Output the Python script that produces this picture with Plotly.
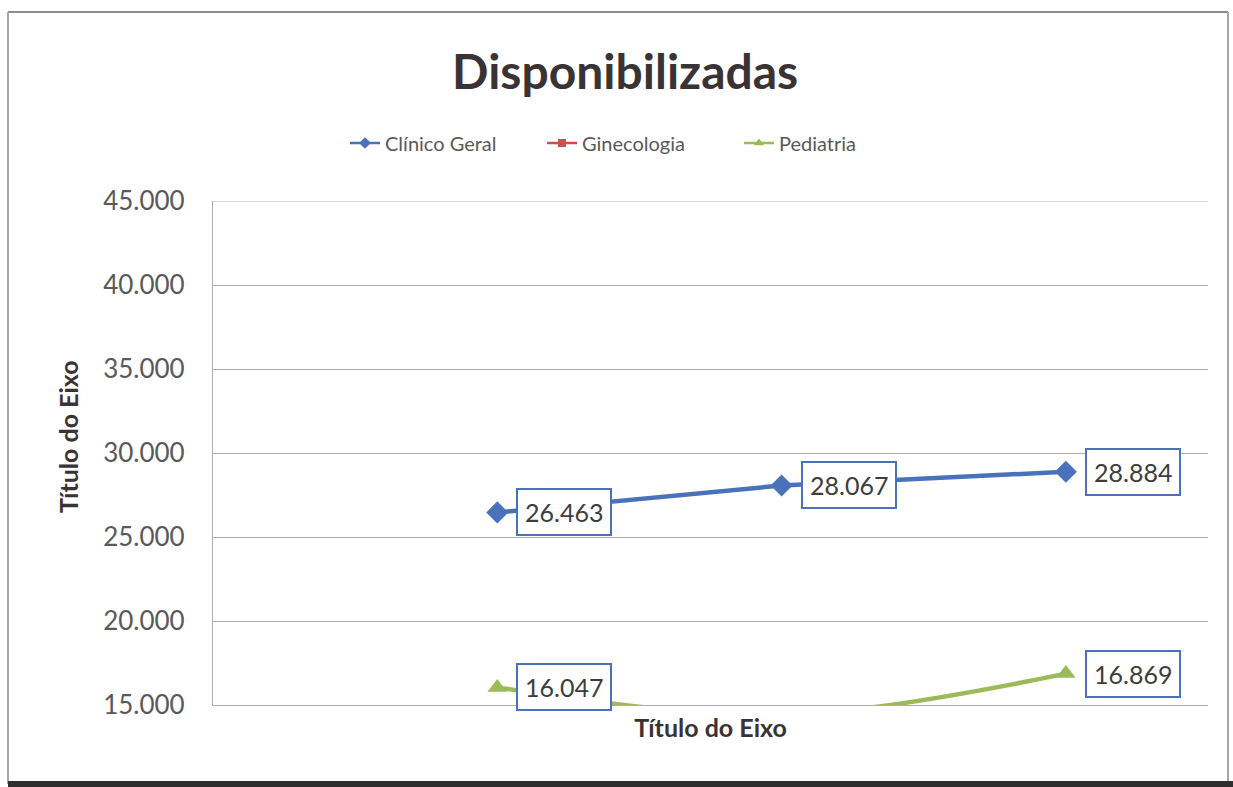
import plotly.graph_objects as go

# Series values (thousands separator shown as ".")
categories = [1, 2, 3]
clinico_geral = [26463, 28067, 28884]
ginecologia = [12300, 12900, 13100]
pediatria = [16047, 14400, 16869]

series_names = ["Clínico Geral", "Ginecologia", "Pediatria"]
y_ticks = [15000, 20000, 25000, 30000, 35000, 40000, 45000]
axis_title = "Título do Eixo"

BLUE = "#4A72BA"
RED = "#C8504D"
GREEN = "#9BBB59"
GRID = "#acacac"
FONT = "Lato, 'Open Sans', sans-serif"

W, H = 1233, 787
L, R, T, B = 213, 1208, 201, 705  # plot-area edges in pixels


def px_x(p):
    return (p - L) / (R - L)


def px_y(p):
    return (B - p) / (B - T)


def fmt(v):
    return f"{v:,}".replace(",", ".")


styles = [
    dict(name=series_names[0], y=clinico_geral, color=BLUE, symbol="diamond",
         size=17, legend_size=9, shape="linear"),
    dict(name=series_names[1], y=ginecologia, color=RED, symbol="square",
         size=12, legend_size=8, shape="linear"),
    dict(name=series_names[2], y=pediatria, color=GREEN, symbol="triangle-up",
         size=17, legend_size=9, shape="spline"),
]

fig = go.Figure()
for s in styles:
    # plotted series
    fig.add_trace(go.Scatter(
        x=categories, y=s["y"], name=s["name"], mode="lines+markers",
        legendgroup=s["name"], showlegend=False,
        line=dict(color=s["color"], width=4.5, shape=s["shape"], smoothing=1.0),
        marker=dict(symbol=s["symbol"], size=s["size"], color=s["color"]),
        cliponaxis=True,
    ))
    # thinner legend swatch for the same series
    fig.add_trace(go.Scatter(
        x=[None], y=[None], name=s["name"], mode="lines+markers",
        legendgroup=s["name"], showlegend=True, hoverinfo="skip",
        line=dict(color=s["color"], width=2.5),
        marker=dict(symbol=s["symbol"], size=s["legend_size"], color=s["color"]),
    ))

# Boxed data labels to the right of each visible point
annotations = []
for ys in (clinico_geral, pediatria):
    for xv, yv in zip(categories, ys):
        if yv < y_ticks[0]:
            continue
        annotations.append(dict(
            x=xv, y=yv, xref="x", yref="y", text=fmt(yv), showarrow=False,
            xanchor="left", yanchor="middle", xshift=19,
            font=dict(family=FONT, size=25, color="#3d3d3d"),
            bgcolor="white", bordercolor=BLUE, borderwidth=2, borderpad=7,
        ))

# Vertical axis title
annotations.append(dict(
    x=px_x(68), y=px_y(437), xref="paper", yref="paper",
    text=f"<b>{axis_title}</b>", showarrow=False, textangle=-90,
    xanchor="center", yanchor="middle",
    font=dict(family=FONT, size=25, color="#3a3336"),
))

# Outer chart frame and the top gridline of the plot area
shapes = [
    dict(type="line", xref="paper", yref="y", layer="below",
         x0=0, x1=1, y0=y_ticks[-1], y1=y_ticks[-1],
         line=dict(color=GRID, width=1.2)),
    dict(type="line", xref="paper", yref="paper",
         x0=px_x(8), x1=px_x(1228), y0=px_y(12), y1=px_y(12),
         line=dict(color="#8c8c8c", width=2)),
    dict(type="line", xref="paper", yref="paper",
         x0=px_x(8), x1=px_x(8), y0=px_y(12), y1=px_y(784),
         line=dict(color="#a6a6a6", width=2)),
    dict(type="line", xref="paper", yref="paper",
         x0=px_x(1228), x1=px_x(1228), y0=px_y(12), y1=px_y(784),
         line=dict(color="#a6a6a6", width=2)),
    dict(type="line", xref="paper", yref="paper",
         x0=px_x(8), x1=px_x(1233), y0=px_y(784), y1=px_y(784),
         line=dict(color="#2e2e2e", width=6)),
]

fig.update_layout(
    width=W, height=H,
    margin=dict(l=L, r=W - R, t=T, b=H - B, autoexpand=False),
    paper_bgcolor="white", plot_bgcolor="white",
    separators=",.",
    title=dict(
        text="<b>Disponibilizadas</b>", x=0.507, xanchor="center",
        y=1 - 72 / H, yanchor="middle",
        font=dict(family=FONT, size=48, color="#3a3336"),
    ),
    legend=dict(
        orientation="h", x=px_x(345), xanchor="left",
        y=px_y(143), yanchor="middle",
        font=dict(family=FONT, size=20, color="#595959"),
        entrywidth=152, entrywidthmode="pixels", tracegroupgap=0,
    ),
    xaxis=dict(
        range=[0, 3.5], showticklabels=False, showgrid=False, zeroline=False,
        showline=True, linecolor=GRID, linewidth=1.2, ticks="",
        title=dict(text=f"<b>{axis_title}</b>", standoff=14,
                   font=dict(family=FONT, size=25, color="#3a3336")),
    ),
    yaxis=dict(
        range=[15000, 45000], tickvals=y_ticks, tickformat=",d",
        showgrid=True, gridcolor=GRID, gridwidth=1.2,
        zeroline=False, showline=True, linecolor=GRID, linewidth=1.2,
        ticks="", ticklen=0, ticklabelstandoff=22,
        tickfont=dict(family=FONT, size=26, color="#595959"),
    ),
    annotations=annotations,
    shapes=shapes,
)

fig.write_html("out.html")
